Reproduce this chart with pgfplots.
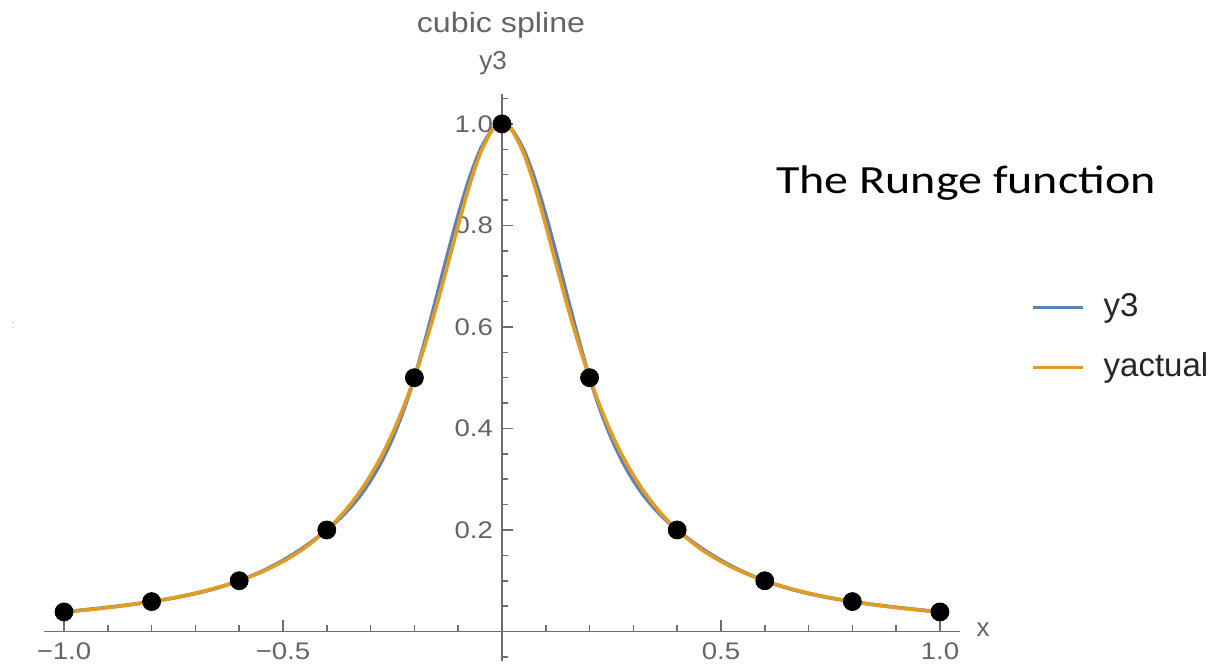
\documentclass[border=0pt]{standalone}
\usepackage{pgfplots}
\pgfplotsset{compat=1.18}
\usepackage{fontspec}
\setmainfont{Liberation Sans}
\newfontfamily\mfont{Liberation Sans}
\newfontfamily\ticfont{Liberation Sans}[FakeStretch=1.15]
\newfontfamily\titfont{Liberation Sans}[FakeStretch=1.15]
\newfontfamily\rungefont{Carlito}[FakeStretch=1.2]
\definecolor{mblue}{RGB}{94,129,181}
\definecolor{morange}{RGB}{225,156,36}
\definecolor{mtext}{RGB}{100,100,100}
\definecolor{maxis}{RGB}{110,110,110}
\begin{document}
\begin{tikzpicture}
\useasboundingbox (-22.15pt,-2.05pt) rectangle (588.35pt,330.45pt);
\begin{axis}[
  at={(0pt,0pt)}, anchor=south west,
  scale only axis, width=457.9pt, height=283.2pt,
  xmin=-1.045, xmax=1.046, ymin=-0.058, ymax=1.058,
  axis lines=middle, axis line style={-, maxis, line width=0.9pt},
  clip=false,
  xtick={-1,-0.5,0.5,1}, xticklabels={−1.0,−0.5,0.5,1.0},
  minor xtick={-0.9,-0.8,-0.7,-0.6,-0.4,-0.3,-0.2,-0.1,0.1,0.2,0.3,0.4,0.6,0.7,0.8,0.9},
  ytick={0.2,0.4,0.6,0.8,1.0}, yticklabels={0.2,0.4,0.6,0.8,1.0},
  minor ytick={-0.05,0.05,0.1,0.15,0.25,0.3,0.35,0.45,0.5,0.55,0.65,0.7,0.75,0.85,0.9,0.95,1.05},
  tick align=inside, major tick length=5.5pt, minor tick length=3.2pt,
  tick style={maxis, line width=0.8pt},
  xticklabel style={font=\ticfont\fontsize{12}{14}\selectfont, text=mtext, yshift=-2pt},
  yticklabel style={font=\ticfont\fontsize{12}{14}\selectfont, text=mtext, xshift=-1pt},
]
\addplot[mblue, line width=1.8pt, smooth] coordinates {
(-1,0.038462) (-0.95,0.042911) (-0.9,0.047618) (-0.85,0.052836) (-0.8,0.058824)
(-0.75,0.065905) (-0.7,0.07468) (-0.65,0.085823) (-0.6,0.1) (-0.55,0.11787)
(-0.5,0.14008) (-0.45,0.16725) (-0.4,0.2) (-0.375,0.21886) (-0.35,0.24054)
(-0.325,0.26628) (-0.3,0.29735) (-0.275,0.33500) (-0.25,0.38048) (-0.225,0.43506)
(-0.2,0.5) (-0.175,0.57549) (-0.15,0.65747) (-0.125,0.74086) (-0.1,0.82053)
(-0.075,0.89139) (-0.05,0.94832) (-0.025,0.98623) (-0.0125,0.99645) (0,1)
(0.0125,0.99645) (0.025,0.98623) (0.05,0.94832) (0.075,0.89139) (0.1,0.82053)
(0.125,0.74086) (0.15,0.65747) (0.175,0.57549) (0.2,0.5) (0.225,0.43506)
(0.25,0.38048) (0.275,0.33500) (0.3,0.29735) (0.325,0.26628) (0.35,0.24054)
(0.375,0.21886) (0.4,0.2) (0.45,0.16725) (0.5,0.14008) (0.55,0.11787)
(0.6,0.1) (0.65,0.085823) (0.7,0.07468) (0.75,0.065905) (0.8,0.058824)
(0.85,0.052836) (0.9,0.047618) (0.95,0.042911) (1,0.038462)
};
\addplot[morange, line width=1.8pt, smooth] coordinates {
(-1,0.038462) (-0.95,0.042440) (-0.9,0.047059) (-0.85,0.052459) (-0.8,0.058824)
(-0.75,0.066390) (-0.7,0.075472) (-0.65,0.086486) (-0.6,0.1) (-0.55,0.11679)
(-0.5,0.13793) (-0.45,0.16495) (-0.4,0.2) (-0.375,0.22145) (-0.35,0.24615)
(-0.325,0.27468) (-0.3,0.30769) (-0.275,0.34595) (-0.25,0.39024) (-0.225,0.44138)
(-0.2,0.5) (-0.175,0.56637) (-0.15,0.64) (-0.125,0.71910) (-0.1,0.8)
(-0.075,0.87671) (-0.05,0.94118) (-0.025,0.98462) (-0.0125,0.99611) (0,1)
(0.0125,0.99611) (0.025,0.98462) (0.05,0.94118) (0.075,0.87671) (0.1,0.8)
(0.125,0.71910) (0.15,0.64) (0.175,0.56637) (0.2,0.5) (0.225,0.44138)
(0.25,0.39024) (0.275,0.34595) (0.3,0.30769) (0.325,0.27468) (0.35,0.24615)
(0.375,0.22145) (0.4,0.2) (0.45,0.16495) (0.5,0.13793) (0.55,0.11679)
(0.6,0.1) (0.65,0.086486) (0.7,0.075472) (0.75,0.066390) (0.8,0.058824)
(0.85,0.052459) (0.9,0.047059) (0.95,0.042440) (1,0.038462)
};
\addplot[only marks, mark=*, mark size=4.5pt, black] coordinates {
(-1,0.038462) (-0.8,0.058824) (-0.6,0.1) (-0.4,0.2) (-0.2,0.5) (0,1)
(0.2,0.5) (0.4,0.2) (0.6,0.1) (0.8,0.058824) (1,0.038462)
};
\end{axis}
\node[text=mtext, font=\titfont\fontsize{14}{16}\selectfont] at (228.35pt,317.95pt) {cubic spline};
\node[text=mtext, font=\mfont\fontsize{13}{15}\selectfont] at (224.35pt,298.95pt) {y3};
\node[text=mtext, font=\mfont\fontsize{13}{15}\selectfont] at (469.35pt,15.45pt) {x};
\node[text=black, font=\rungefont\fontsize{20}{24}\selectfont] at (460.85pt,238.95pt) {The Runge function};
\draw[mblue, line width=1.5pt] (494.35pt,176.45pt) -- (519.35pt,176.45pt);
\draw[morange, line width=1.5pt] (494.35pt,146.45pt) -- (519.35pt,146.45pt);
\node[anchor=west, inner sep=0pt, text=black!85, font=\mfont\fontsize{16.5}{19}\selectfont] at (529.5pt,176.45pt) {y3};
\node[anchor=west, inner sep=0pt, text=black!85, font=\mfont\fontsize{16.5}{19}\selectfont] at (529.5pt,146.45pt) {yactual};
\node[text=mblue!60, font=\mfont\fontsize{6}{7}\selectfont] at (-15.65pt,167.95pt) {:};
\end{tikzpicture}
\end{document}
